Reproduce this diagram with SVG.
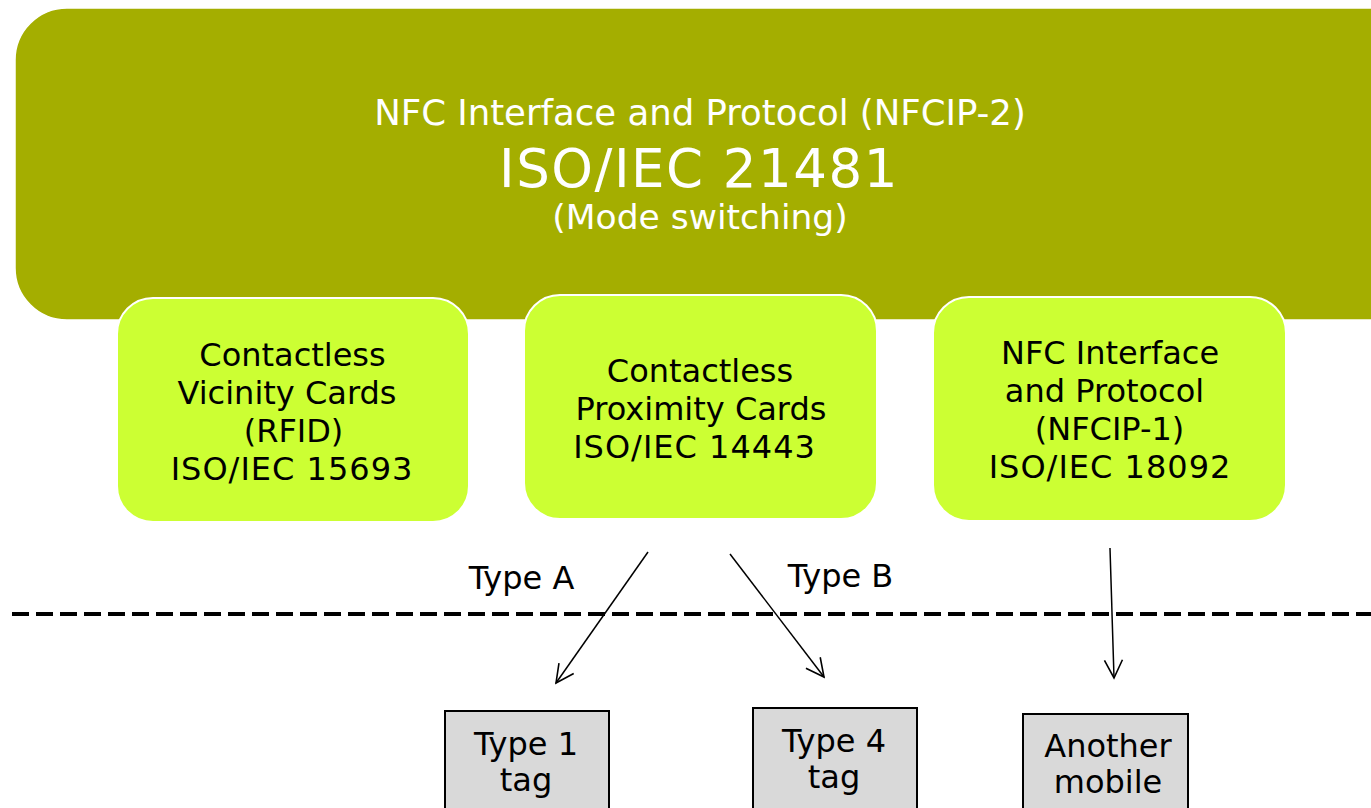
<svg xmlns="http://www.w3.org/2000/svg" width="1371" height="808" viewBox="0 0 1371 808">
<defs>
<style>
.t{font-family:"DejaVu Sans","Verdana",sans-serif;text-anchor:middle}
.w{fill:#ffffff}
.k{fill:#000000}
.card{fill:#ccff33;stroke:#ffffff;stroke-width:2}
.tag{fill:#d9d9d9;stroke:#000000;stroke-width:2}
.conn{stroke:#000000;stroke-width:1.5;fill:none}
.iso{letter-spacing:1px}
</style>
<marker id="arr" viewBox="0 0 22 22" refX="20" refY="11" markerWidth="22" markerHeight="22" markerUnits="userSpaceOnUse" orient="auto">
<path d="M2,2 L20,11 L2,20" fill="none" stroke="#000" stroke-width="1.6"/>
</marker>
</defs>
<rect width="1371" height="808" fill="#ffffff"/>
<g id="nfcip2">
<rect x="15" y="8" width="1410" height="312" rx="52" ry="52" fill="#a4ae00" stroke="#ffffff" stroke-width="1.5"/>
<text class="t w" x="700" y="125" font-size="35.5">NFC Interface and Protocol (NFCIP-2)</text>
<text class="t w" x="699" y="187" font-size="53" letter-spacing="1.5">ISO/IEC 21481</text>
<text class="t w" x="700" y="229" font-size="34.5">(Mode switching)</text>
</g>
<g id="vicinity">
<rect class="card" x="117" y="298" width="352" height="224" rx="36" ry="36"/>
<text class="t k" font-size="32"><tspan x="292.5" y="366">Contactless</tspan><tspan x="287" y="404">Vicinity Cards</tspan><tspan x="293.5" y="442">(RFID)</tspan><tspan class="iso" x="292" y="480">ISO/IEC 15693</tspan></text>
</g>
<g id="proximity">
<rect class="card" x="524" y="295" width="353" height="224" rx="36" ry="36"/>
<text class="t k" font-size="32"><tspan x="700" y="382">Contactless</tspan><tspan x="701" y="420">Proximity Cards</tspan><tspan class="iso" x="694.5" y="458">ISO/IEC 14443</tspan></text>
</g>
<g id="nfcip1">
<rect class="card" x="933" y="297" width="353" height="224" rx="36" ry="36"/>
<text class="t k" font-size="32"><tspan x="1110" y="364">NFC Interface</tspan><tspan x="1104.5" y="402">and Protocol</tspan><tspan x="1109.5" y="440">(NFCIP-1)</tspan><tspan class="iso" x="1110" y="478">ISO/IEC 18092</tspan></text>
</g>
<g id="type1">
<rect class="tag" x="445" y="711" width="164" height="110"/>
<text class="t k" font-size="32"><tspan x="526" y="755">Type 1</tspan><tspan x="526" y="791">tag</tspan></text>
</g>
<g id="type4">
<rect class="tag" x="753" y="708" width="164" height="110"/>
<text class="t k" font-size="32"><tspan x="834" y="752">Type 4</tspan><tspan x="834" y="788">tag</tspan></text>
</g>
<g id="mobile">
<rect class="tag" x="1023" y="714" width="165" height="110"/>
<text class="t k" font-size="32"><tspan x="1108" y="757">Another</tspan><tspan x="1108" y="793">mobile</tspan></text>
</g>
<g id="connectors">
<line x1="12" y1="614" x2="1371" y2="614" stroke="#000" stroke-width="4" stroke-dasharray="17,7"/>
<text class="t k" x="521.5" y="589" font-size="32">Type A</text>
<text class="t k" x="840.5" y="587" font-size="32">Type B</text>
<line class="conn" x1="648" y1="552" x2="556" y2="683" marker-end="url(#arr)"/>
<line class="conn" x1="730" y1="554" x2="824" y2="677" marker-end="url(#arr)"/>
<line class="conn" x1="1110" y1="548" x2="1114" y2="678" marker-end="url(#arr)"/>
</g>
</svg>
